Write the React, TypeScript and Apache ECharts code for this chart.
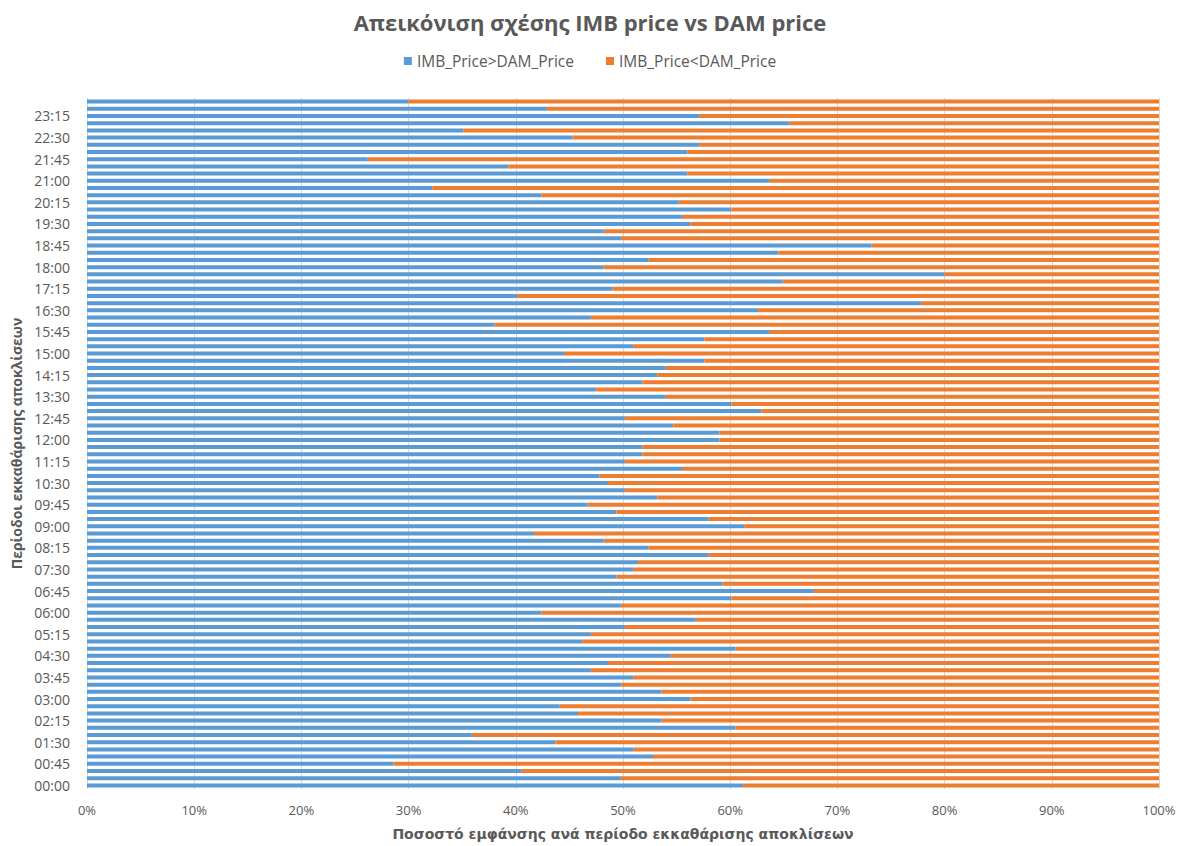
import React, { useEffect, useRef } from "react";
import * as echarts from "echarts";

const periods: string[] = [];
for (let h = 0; h < 24; h++) {
  for (let m = 0; m < 60; m += 15) {
    periods.push(String(h).padStart(2, "0") + ":" + String(m).padStart(2, "0"));
  }
}

// Share (%) of IMB_Price > DAM_Price per settlement period, 00:00 .. 23:45
const imbAboveDam = [
  61.2, 49.8, 40.5, 28.6, 52.8, 51.0, 43.7, 35.9,
  60.5, 53.6, 45.8, 44.1, 56.3, 53.6, 49.8, 51.0,
  47.0, 48.6, 54.4, 60.5, 46.2, 47.0, 50.2, 56.8,
  42.4, 49.8, 60.1, 67.8, 59.3, 49.4, 51.0, 51.4,
  58.0, 52.4, 48.2, 41.7, 61.3, 58.0, 49.4, 46.7,
  53.2, 50.2, 48.6, 47.8, 55.5, 50.2, 51.8, 51.8,
  59.0, 59.0, 54.7, 50.2, 62.9, 60.1, 54.0, 47.5,
  51.8, 53.2, 54.0, 57.6, 44.5, 51.0, 57.6, 63.7,
  38.0, 47.0, 62.6, 77.8, 40.1, 49.0, 64.9, 80.0,
  48.2, 52.4, 64.5, 73.2, 49.8, 48.2, 56.3, 55.5,
  60.1, 55.2, 42.4, 32.2, 63.7, 56.0, 39.3, 26.2,
  56.0, 57.1, 45.3, 35.1, 65.5, 57.1, 42.9, 30.0,
];

// Share (%) of IMB_Price < DAM_Price (complement in the 100% stacked chart)
const imbBelowDam = imbAboveDam.map((v) => Math.round((100 - v) * 10) / 10);

const xTicks = [0, 10, 20, 30, 40, 50, 60, 70, 80, 90, 100];

const FONT = "'Open Sans', 'Liberation Sans', sans-serif";
const TXT = "#595959";

export default function App() {
  const ref = useRef<HTMLDivElement>(null);
  useEffect(() => {
    if (!ref.current) return;
    const chart = echarts.init(ref.current, undefined, { renderer: "svg" });
    chart.setOption({
      animation: false,
      backgroundColor: "#ffffff",
      textStyle: { fontFamily: FONT },
      title: {
        text: "Απεικόνιση σχέσης IMB price vs DAM price",
        left: "center",
        top: 6,
        textStyle: { fontFamily: FONT, fontSize: 22, fontWeight: "bold", color: TXT },
      },
      legend: {
        top: 48,
        left: "center",
        icon: "rect",
        itemWidth: 8,
        itemHeight: 8,
        itemGap: 32,
        textStyle: { fontFamily: FONT, fontSize: 15.5, color: TXT },
        data: ["IMB_Price>DAM_Price", "IMB_Price<DAM_Price"],
      },
      grid: { left: 87, right: 21, top: 98, bottom: 45, containLabel: false },
      xAxis: {
        type: "value",
        min: xTicks[0],
        max: xTicks[xTicks.length - 1],
        interval: 10,
        axisLine: { show: false },
        axisTick: { show: false },
        splitLine: { show: true, lineStyle: { color: "#d9d9d9", width: 1 } },
        axisLabel: {
          formatter: (v: number) => v + "%",
          color: TXT,
          fontSize: 13,
          fontFamily: FONT,
          margin: 14,
        },
        name: "Ποσοστό εμφάνσης ανά περίοδο εκκαθάρισης αποκλίσεων",
        nameLocation: "middle",
        nameGap: 38,
        nameTextStyle: {
          fontFamily: "'DejaVu Sans', sans-serif",
          fontSize: 14,
          fontWeight: "bold",
          color: TXT,
        },
      },
      yAxis: {
        type: "category",
        data: periods,
        axisLine: { show: false },
        axisTick: { show: false },
        axisLabel: { interval: 2, color: TXT, fontSize: 14, fontFamily: FONT, margin: 17 },
        name: "Περίοδοι εκκαθάρισης αποκλίσεων",
        nameLocation: "middle",
        nameRotate: 90,
        nameGap: 62,
        nameTextStyle: { fontFamily: FONT, fontSize: 14, fontWeight: "bold", color: TXT },
      },
      series: [
        {
          name: "IMB_Price>DAM_Price",
          type: "bar",
          stack: "total",
          barWidth: 4,
          itemStyle: { color: "#5B9BD5" },
          data: imbAboveDam,
        },
        {
          name: "IMB_Price<DAM_Price",
          type: "bar",
          stack: "total",
          barWidth: 4,
          itemStyle: { color: "#ED7D31" },
          data: imbBelowDam,
        },
      ],
    });
    return () => chart.dispose();
  }, []);
  return (
    <div
      ref={ref}
      style={{ position: "absolute", left: 0, top: 0, width: 1180, height: 846 }}
    />
  );
}
